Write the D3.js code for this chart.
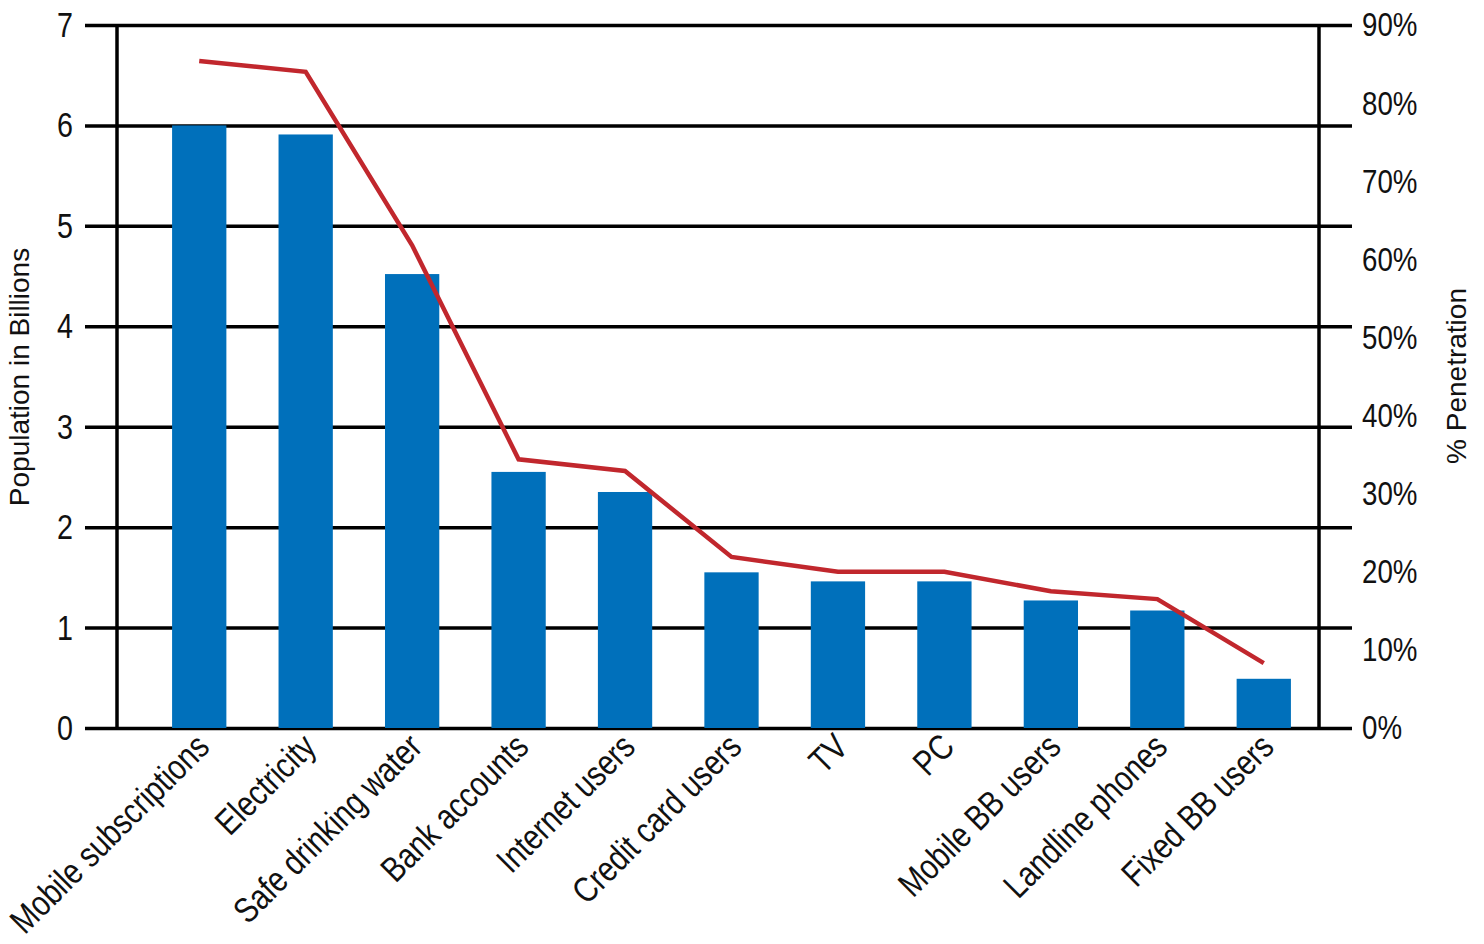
<!DOCTYPE html>
<html>
<head>
<meta charset="utf-8">
<script src="https://cdn.jsdelivr.net/npm/d3@7"></script>
<style>
  html, body { margin: 0; padding: 0; background: #fff; }
  svg text { font-family: "Liberation Sans", Arial, sans-serif; fill: #111; }
</style>
</head>
<body>
<svg id="chart" width="1484" height="944"></svg>
<script>
const categories = ["Mobile subscriptions", "Electricity", "Safe drinking water", "Bank accounts",
  "Internet users", "Credit card users", "TV", "PC", "Mobile BB users", "Landline phones", "Fixed BB users"];
const populationBillions = [6.0, 5.91, 4.52, 2.55, 2.35, 1.55, 1.46, 1.46, 1.27, 1.17, 0.49];
const penetrationPct = [85.4, 84.0, 61.8, 34.4, 32.9, 21.9, 20.0, 20.0, 17.5, 16.5, 8.3];
const leftTicks = [0, 1, 2, 3, 4, 5, 6, 7];
const rightTicks = [0, 10, 20, 30, 40, 50, 60, 70, 80, 90];

const NARROW = 0.82; // horizontal squeeze to mimic a condensed face
const svg = d3.select("#chart");
const plotTop = 25, plotBottom = 728;
const axisL = 117, axisR = 1319;

const x = d3.scaleBand().domain(categories).range([146, 1317]).paddingInner(0.49).paddingOuter(0.245);
const y = d3.scaleLinear().domain([0, 7]).range([plotBottom, plotTop]);
const yR = d3.scaleLinear().domain([0, 90]).range([plotBottom, plotTop]);

// gridlines (left axis ticks extended)
const gridAxis = d3.axisLeft(y).tickValues(leftTicks).tickSize(-(1352 - 85)).tickFormat("");
const g = svg.append("g").attr("transform", `translate(85,0)`).call(gridAxis);
g.select(".domain").remove();
g.selectAll(".tick line").attr("stroke", "#000").attr("stroke-width", 3.5);

// vertical axis lines
svg.append("line").attr("x1", axisL).attr("x2", axisL).attr("y1", plotTop).attr("y2", plotBottom)
  .attr("stroke", "#000").attr("stroke-width", 3.5);
svg.append("line").attr("x1", axisR).attr("x2", axisR).attr("y1", plotTop).attr("y2", plotBottom)
  .attr("stroke", "#000").attr("stroke-width", 3.5);

// bars
svg.append("g").selectAll("rect").data(categories).join("rect")
  .attr("x", d => x(d))
  .attr("width", x.bandwidth())
  .attr("y", (d, i) => y(populationBillions[i]))
  .attr("height", (d, i) => y(0) - y(populationBillions[i]))
  .attr("fill", "#0070bb");

// line
const line = d3.line()
  .x((d, i) => x(categories[i]) + x.bandwidth() / 2)
  .y(d => yR(d));
svg.append("path").datum(penetrationPct)
  .attr("d", line)
  .attr("fill", "none")
  .attr("stroke", "#c1272d")
  .attr("stroke-width", 4.5)
  .attr("stroke-linejoin", "miter");

// left tick labels
const leftAxis = d3.axisLeft(y).tickValues(leftTicks).tickSize(0).tickPadding(0).tickFormat(d3.format("d"));
const la = svg.append("g").attr("transform", "translate(73,0)").call(leftAxis);
la.select(".domain").remove();
la.selectAll("text").attr("font-size", 35).attr("dy", "0.33em")
  .attr("transform", `scale(${NARROW},1)`)
  .style("font-family", '"Liberation Sans", Arial, sans-serif').attr("fill", "#111");

// right tick labels
const rightAxis = d3.axisRight(yR).tickValues(rightTicks).tickSize(0).tickPadding(0).tickFormat(d => d + "%");
const ra = svg.append("g").attr("transform", "translate(1362,0)").call(rightAxis);
ra.select(".domain").remove();
ra.selectAll("text").attr("font-size", 33).attr("dy", "0.33em")
  .attr("transform", `scale(${NARROW + 0.02},1)`)
  .style("font-family", '"Liberation Sans", Arial, sans-serif').attr("fill", "#111");

// x category labels (rotated)
svg.append("g").selectAll("text").data(categories).join("text")
  .attr("transform", d => `translate(${x(d) + x.bandwidth() / 2 + 12},${plotBottom + 21}) rotate(-45) scale(${NARROW},1)`)
  .attr("text-anchor", "end")
  .attr("font-size", 35.5)
  .text(d => d);

// axis titles
svg.append("text")
  .attr("transform", `translate(29,377) rotate(-90)`)
  .attr("text-anchor", "middle")
  .attr("font-size", 28)
  .text("Population in Billions");
svg.append("text")
  .attr("transform", `translate(1466,376) rotate(-90)`)
  .attr("text-anchor", "middle")
  .attr("font-size", 28)
  .text("% Penetration");
</script>
</body>
</html>
